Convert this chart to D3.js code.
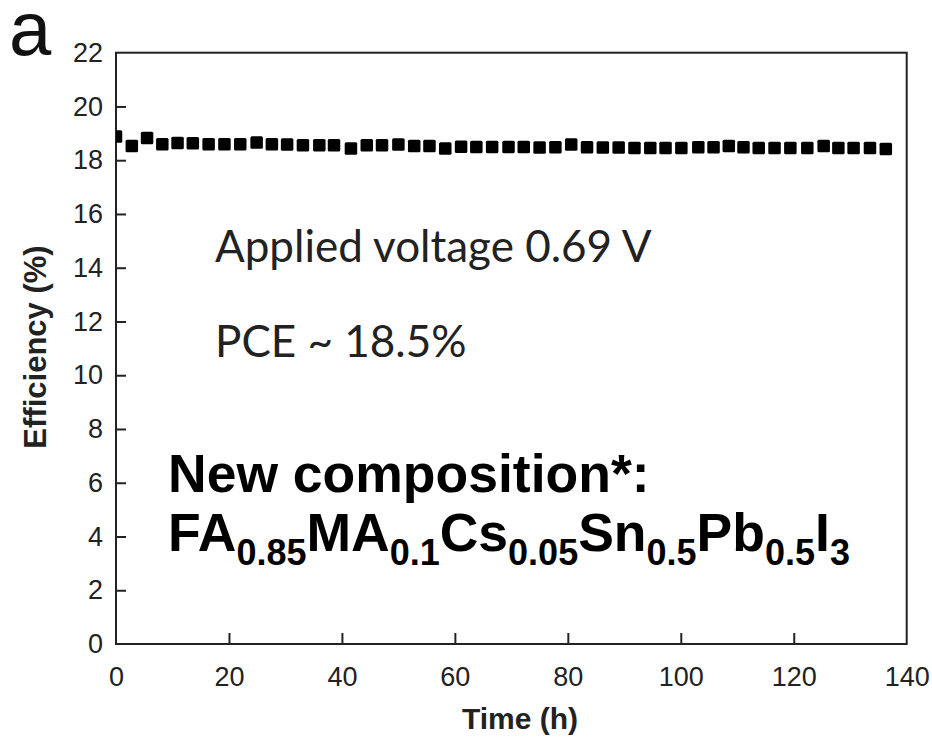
<!DOCTYPE html>
<html>
<head>
<meta charset="utf-8">
<script src="https://cdn.jsdelivr.net/npm/d3@7"></script>
<style>
  body { margin: 0; background: #fff; }
  text { font-family: Arial, "Liberation Sans", sans-serif; }
</style>
</head>
<body>
<script>
// stability test data (time in h, efficiency in %)
var times = [0, 2.8, 5.5, 8.2, 10.9, 13.6, 16.4, 19.2, 22.0, 24.9,
             27.6, 30.3, 33.1, 36.0, 38.6, 41.6, 44.4, 47.1, 50.0, 52.8,
             55.5, 58.3, 61.1, 63.8, 66.6, 69.5, 72.2, 75.0, 77.8, 80.6,
             83.4, 86.2, 89.0, 91.8, 94.6, 97.3, 100.1, 103.1, 105.8, 108.5,
             111.1, 113.8, 116.6, 119.4, 122.4, 125.3, 127.9, 130.6, 133.5, 136.3];
var efficiency = [18.88, 18.53, 18.83, 18.59, 18.64, 18.63, 18.59, 18.59, 18.59, 18.66,
                  18.59, 18.58, 18.56, 18.56, 18.56, 18.44, 18.56, 18.56, 18.58, 18.53,
                  18.53, 18.44, 18.50, 18.49, 18.49, 18.49, 18.49, 18.47, 18.48, 18.58,
                  18.48, 18.47, 18.47, 18.45, 18.45, 18.45, 18.45, 18.48, 18.48, 18.53,
                  18.48, 18.45, 18.45, 18.45, 18.45, 18.53, 18.45, 18.45, 18.45, 18.42];
var xTicks = [0, 20, 40, 60, 80, 100, 120, 140];
var yTicks = [0, 2, 4, 6, 8, 10, 12, 14, 16, 18, 20, 22];
// chemical formula pieces: [text, isSubscript]
var formula = [["FA", false], ["0.85", true], ["MA", false], ["0.1", true],
               ["Cs", false], ["0.05", true], ["Sn", false], ["0.5", true],
               ["Pb", false], ["0.5", true], ["I", false], ["3", true]];

var W = 932, H = 738;
var pLeft = 116, pRight = 906.7, pTop = 52.7, pBottom = 644;

var svg = d3.select(document.body).append('svg')
    .attr('width', W).attr('height', H);

var x = d3.scaleLinear().domain([0, 140]).range([pLeft, pRight]);
var y = d3.scaleLinear().domain([0, 22]).range([pBottom, pTop]);

// clip for the markers
svg.append('clipPath').attr('id', 'plotclip')
  .append('rect')
    .attr('x', pLeft).attr('y', pTop)
    .attr('width', pRight - pLeft).attr('height', pBottom - pTop);

// axes (ticks inside)
var xAxis = svg.append('g')
    .attr('transform', 'translate(0,' + pBottom + ')')
    .call(d3.axisBottom(x).tickValues(xTicks).tickSizeInner(-11).tickSizeOuter(0).tickPadding(23));
var yAxis = svg.append('g')
    .attr('transform', 'translate(' + pLeft + ',0)')
    .call(d3.axisLeft(y).tickValues(yTicks).tickSizeInner(-10).tickSizeOuter(0).tickPadding(13));

[xAxis, yAxis].forEach(function(g){
    g.select('.domain').remove();
    g.selectAll('line').attr('stroke', '#222').attr('stroke-width', 2);
    g.selectAll('text').attr('fill', '#222').style('font-size', '27px');
});
// the end ticks sit on the frame corners
xAxis.selectAll('.tick').filter(function(d){ return d === 140 || d === 0; }).select('line').remove();
yAxis.selectAll('.tick').filter(function(d){ return d === 22 || d === 0; }).select('line').remove();

// frame
svg.append('rect')
    .attr('x', pLeft).attr('y', pTop)
    .attr('width', pRight - pLeft).attr('height', pBottom - pTop)
    .attr('fill', 'none').attr('stroke', '#222').attr('stroke-width', 2);

// markers
var ms = 12.5;
svg.append('g').attr('clip-path', 'url(#plotclip)')
  .selectAll('rect')
  .data(times)
  .enter()
  .append('rect')
  .attr('x', function(d){ return x(d) - ms / 2; })
  .attr('y', function(d, i){ return y(efficiency[i]) - ms / 2; })
  .attr('width', ms).attr('height', ms)
  .attr('rx', 1.5)
  .attr('fill', '#000');

// axis titles
svg.append('text')
    .attr('x', 520).attr('y', 729)
    .attr('text-anchor', 'middle')
    .style('font-size', '30px').style('font-weight', 'bold')
    .attr('fill', '#222')
    .text('Time (h)');

svg.append('text')
    .attr('transform', 'translate(46,347) rotate(-90)')
    .attr('text-anchor', 'middle')
    .style('font-size', '31px').style('font-weight', 'bold')
    .attr('fill', '#222')
    .text('Efficiency (%)');

// panel letter
svg.append('text')
    .attr('x', 9).attr('y', 55)
    .style('font-size', '76px')
    .attr('fill', '#111')
    .text('a');

// annotations
svg.append('text')
    .attr('x', 215).attr('y', 262)
    .style('font-family', 'Lato, "Open Sans", sans-serif')
    .style('font-size', '44px')
    .attr('fill', '#222')
    .text('Applied voltage 0.69 V');

svg.append('text')
    .attr('x', 215).attr('y', 357)
    .style('font-family', 'Lato, "Open Sans", sans-serif')
    .style('font-size', '44px')
    .attr('fill', '#222')
    .text('PCE ~ 18.5%');

svg.append('text')
    .attr('x', 168).attr('y', 492)
    .style('font-size', '53.5px').style('font-weight', 'bold')
    .attr('fill', '#000')
    .text('New composition*:');

var f = svg.append('text')
    .attr('x', 168).attr('y', 551)
    .style('font-weight', 'bold')
    .attr('fill', '#000');
f.selectAll('tspan')
  .data(formula)
  .enter()
  .append('tspan')
  .style('font-size', function(d){ return d[1] ? '36px' : '53.5px'; })
  .attr('dy', function(d, i){
      if (d[1]) return 14;
      return i === 0 ? 0 : -14;
  })
  .text(function(d){ return d[0]; });
</script>
</body>
</html>
